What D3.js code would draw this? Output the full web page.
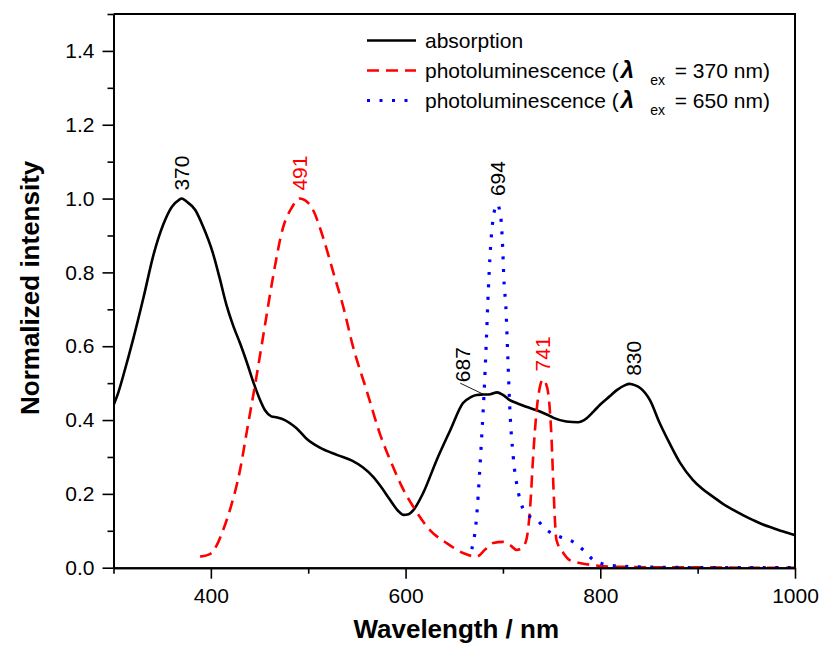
<!DOCTYPE html>
<html>
<head>
<meta charset="utf-8">
<script src="https://cdn.jsdelivr.net/npm/d3@7"></script>
<style>
  html, body { margin: 0; padding: 0; background: #fff; }
  svg { display: block; font-family: "Liberation Sans", Arial, sans-serif; }
</style>
</head>
<body>
<svg id="chart" width="824" height="646"></svg>
<script>
// Absorption spectrum (normalized)
const absNm = [300, 305, 310, 320, 331, 341, 351, 360, 367, 370, 375, 384, 392, 402, 409, 416, 423, 430, 437, 444,
  450, 456, 462, 468, 476, 482, 488, 498, 512, 530, 545, 556, 566, 574, 584, 592, 598, 603, 608, 618,
  632, 646, 659, 667, 673, 680, 687, 694, 700, 707, 715, 724, 738, 745, 752, 765, 777, 786, 793, 800, 810,
  817, 825, 830, 836, 841, 851, 861, 871, 882, 895, 905, 916, 926, 937, 947, 957, 967, 978, 988, 1000];
const absVal = [0.44, 0.475, 0.52, 0.617, 0.734, 0.847, 0.929, 0.978, 0.996, 1.0, 0.992, 0.969, 0.924, 0.853, 0.785, 0.712, 0.655, 0.608, 0.556, 0.50,
  0.458, 0.425, 0.41, 0.407, 0.40, 0.39, 0.378, 0.35, 0.325, 0.305, 0.29, 0.272, 0.248, 0.222, 0.184, 0.155, 0.143, 0.145, 0.156, 0.202,
  0.292, 0.373, 0.446, 0.462, 0.468, 0.469, 0.47, 0.475, 0.468, 0.454, 0.445, 0.436, 0.423, 0.415, 0.406, 0.396, 0.394, 0.405, 0.423, 0.442, 0.465,
  0.481, 0.494, 0.498, 0.494, 0.487, 0.454, 0.392, 0.338, 0.284, 0.238, 0.213, 0.192, 0.173, 0.156, 0.142, 0.129, 0.117, 0.107, 0.098, 0.088];

// Photoluminescence, excitation at 370 nm
const pl370Nm = [389, 399, 407, 412, 420, 430, 437, 447, 457, 464, 474, 483, 491, 497, 505, 515, 526, 536, 546, 560,
  574, 587, 598, 608, 625, 642, 659, 673, 682, 690, 700, 708, 714, 720, 724, 728, 731, 735, 738, 741,
  744, 747, 750, 752, 755, 762, 769, 780, 793, 810, 830, 860, 900, 950, 1000];
const pl370Val = [0.03, 0.037, 0.066, 0.098, 0.16, 0.265, 0.37, 0.52, 0.68, 0.79, 0.92, 0.975, 1.0, 0.995, 0.969, 0.897, 0.798, 0.707, 0.599, 0.48,
  0.36, 0.274, 0.21, 0.165, 0.102, 0.067, 0.04, 0.03, 0.05, 0.067, 0.07, 0.06, 0.048, 0.055, 0.075, 0.165, 0.30, 0.436, 0.49, 0.51,
  0.50, 0.463, 0.346, 0.21, 0.075, 0.04, 0.02, 0.012, 0.007, 0.003, 0.002, 0.001, 0.001, 0.0, 0.0];

// Photoluminescence, excitation at 650 nm
const pl650Nm = [668, 673, 676, 678, 681.6, 683, 685, 686.7, 689, 692, 694, 697.7, 699.7, 701, 703, 705, 707, 710.6, 716, 724,
  735, 745, 758.6, 772, 782.5, 793, 810, 830, 870, 920, 1000];
const pl650Val = [0.05, 0.138, 0.256, 0.346, 0.527, 0.617, 0.752, 0.843, 0.924, 0.975, 0.985, 0.951, 0.87, 0.78, 0.707, 0.572, 0.436, 0.30, 0.202, 0.147,
  0.129, 0.102, 0.084, 0.07, 0.048, 0.021, 0.007, 0.003, 0.001, 0.0, 0.0];

// Peak annotations (wavelength in nm and the spectrum it belongs to)
const peakNm = [370, 491, 694, 687, 741, 830];
const peakSeries = ["abs", "pl370", "pl650", "abs", "pl370", "abs"];

// Axis ticks
const xMajorTicks = [400, 600, 800, 1000];
const xMinorTicks = [300, 500, 700, 900];
const yMajorTicks = [0, 0.2, 0.4, 0.6, 0.8, 1.0, 1.2, 1.4];
const yMinorTicks = [0.1, 0.3, 0.5, 0.7, 0.9, 1.1, 1.3, 1.5];

const legendLabels = ["absorption", "photoluminescence (", "photoluminescence ("];
const legendExcitation = [null, "370", "650"];

const svg = d3.select("#chart");
const plotLeft = 113.5, plotRight = 795, plotTop = 14, plotBottom = 567.7;

const x = d3.scaleLinear().domain([300, 1000]).range([plotLeft, plotRight]);
const y = d3.scaleLinear().domain([0, 1.5]).range([plotBottom, plotTop]);

const series = {
  abs: { nm: absNm, val: absVal, color: "#000", dash: null, width: 2.6 },
  pl370: { nm: pl370Nm, val: pl370Val, color: "#ff0000", dash: "12,7", width: 2.6 },
  pl650: { nm: pl650Nm, val: pl650Val, color: "#0000ff", dash: "3,9.5", width: 3.2 }
};

function valueAt(key, nm) {
  const s = series[key];
  const i = d3.bisectLeft(s.nm, nm);
  if (i <= 0) return s.val[0];
  if (i >= s.nm.length) return s.val[s.nm.length - 1];
  const t = (nm - s.nm[i - 1]) / (s.nm[i] - s.nm[i - 1]);
  return s.val[i - 1] + t * (s.val[i] - s.val[i - 1]);
}

// Clip region for the spectra
svg.append("clipPath").attr("id", "plot-clip")
  .append("rect").attr("x", plotLeft).attr("y", plotTop)
  .attr("width", plotRight - plotLeft).attr("height", plotBottom - plotTop);

const line = d3.line()
  .x(d => x(d[0]))
  .y(d => y(d[1]))
  .curve(d3.curveMonotoneX);

const plot = svg.append("g").attr("clip-path", "url(#plot-clip)");
["abs", "pl370", "pl650"].forEach(key => {
  const s = series[key];
  plot.append("path")
    .datum(d3.zip(s.nm, s.val))
    .attr("d", line)
    .attr("fill", "none")
    .attr("stroke", s.color)
    .attr("stroke-width", s.width)
    .attr("stroke-linejoin", "round")
    .attr("stroke-dasharray", s.dash);
});

// Axes
const tickFont = 21;
const xAxis = svg.append("g").attr("transform", `translate(0,${plotBottom})`)
  .call(d3.axisBottom(x).tickValues(xMajorTicks).tickSize(11).tickPadding(9).tickSizeOuter(0).tickFormat(d3.format("d")));
const xMinor = svg.append("g").attr("transform", `translate(0,${plotBottom})`)
  .call(d3.axisBottom(x).tickValues(xMinorTicks).tickSize(6).tickSizeOuter(0).tickFormat(""));
const yAxis = svg.append("g").attr("transform", `translate(${plotLeft},0)`)
  .call(d3.axisLeft(y).tickValues(yMajorTicks).tickSize(11).tickPadding(8).tickSizeOuter(0).tickFormat(d3.format(".1f")));
const yMinor = svg.append("g").attr("transform", `translate(${plotLeft},0)`)
  .call(d3.axisLeft(y).tickValues(yMinorTicks).tickSize(6).tickSizeOuter(0).tickFormat(""));

[xAxis, xMinor, yAxis, yMinor].forEach(g => {
  g.select(".domain").attr("stroke", "#000").attr("stroke-width", 2);
  g.selectAll(".tick line").attr("stroke", "#000").attr("stroke-width", 1.6);
  g.selectAll(".tick text").attr("font-size", tickFont).attr("fill", "#000")
    .attr("font-family", "Liberation Sans, Arial, sans-serif");
});

// Frame: top and right borders
svg.append("path")
  .attr("d", `M${plotLeft},${plotTop}H${plotRight}V${plotBottom}`)
  .attr("fill", "none").attr("stroke", "#000").attr("stroke-width", 2);

// Axis titles
svg.append("text")
  .attr("x", (plotLeft + plotRight) / 2 + 2).attr("y", 638)
  .attr("text-anchor", "middle")
  .attr("font-size", 26).attr("font-weight", "bold")
  .text("Wavelength / nm");
svg.append("text")
  .attr("transform", `translate(39,${(plotTop + plotBottom) / 2 - 3}) rotate(-90)`)
  .attr("text-anchor", "middle")
  .attr("font-size", 26).attr("font-weight", "bold")
  .text("Normalized intensity");

// Peak labels
const labelFont = 21;
peakNm.forEach((nm, i) => {
  const key = peakSeries[i];
  const px = x(nm), py = y(valueAt(key, nm));
  const color = key === "pl370" ? "#ff0000" : "#000";
  let lx = px, ly = py - 8;
  if (nm === 687) {
    // shoulder label placed to the side with a leader line
    lx = px - 28; ly = py - 12;
    svg.append("line")
      .attr("x1", px - 7).attr("y1", py)
      .attr("x2", px - 30).attr("y2", py - 11)
      .attr("stroke", "#000").attr("stroke-width", 0.9);
  }
  if (nm === 830) lx = px + 4;
  svg.append("text")
    .attr("transform", `translate(${lx},${ly}) rotate(-90)`)
    .attr("dy", "0.36em")
    .attr("text-anchor", "start")
    .attr("font-size", labelFont)
    .attr("fill", color)
    .text(nm);
});

// Legend
const legendX0 = 367, legendX1 = 416, legendTextX = 425;
const legendKeys = ["abs", "pl370", "pl650"];
legendKeys.forEach((key, i) => {
  const s = series[key];
  const baseline = 48 + i * 30;
  const ly = baseline - 7.5;
  svg.append("line")
    .attr("x1", legendX0).attr("x2", legendX1).attr("y1", ly).attr("y2", ly)
    .attr("stroke", s.color).attr("stroke-width", s.width)
    .attr("stroke-dasharray", s.dash);
  const t = svg.append("text")
    .attr("x", legendTextX).attr("y", baseline)
    .attr("font-size", 21).attr("fill", "#000");
  t.append("tspan").text(legendLabels[i]);
  if (legendExcitation[i]) {
    t.append("tspan").attr("dx", 2).attr("font-size", 24)
      .attr("font-weight", "bold").attr("font-style", "italic").text("λ");
    t.append("tspan").attr("dx", 16).attr("dy", 7).attr("font-size", 14).text("ex");
    t.append("tspan").attr("dx", 4).attr("dy", -7).text(` = ${legendExcitation[i]} nm)`);
  }
});
</script>
</body>
</html>
